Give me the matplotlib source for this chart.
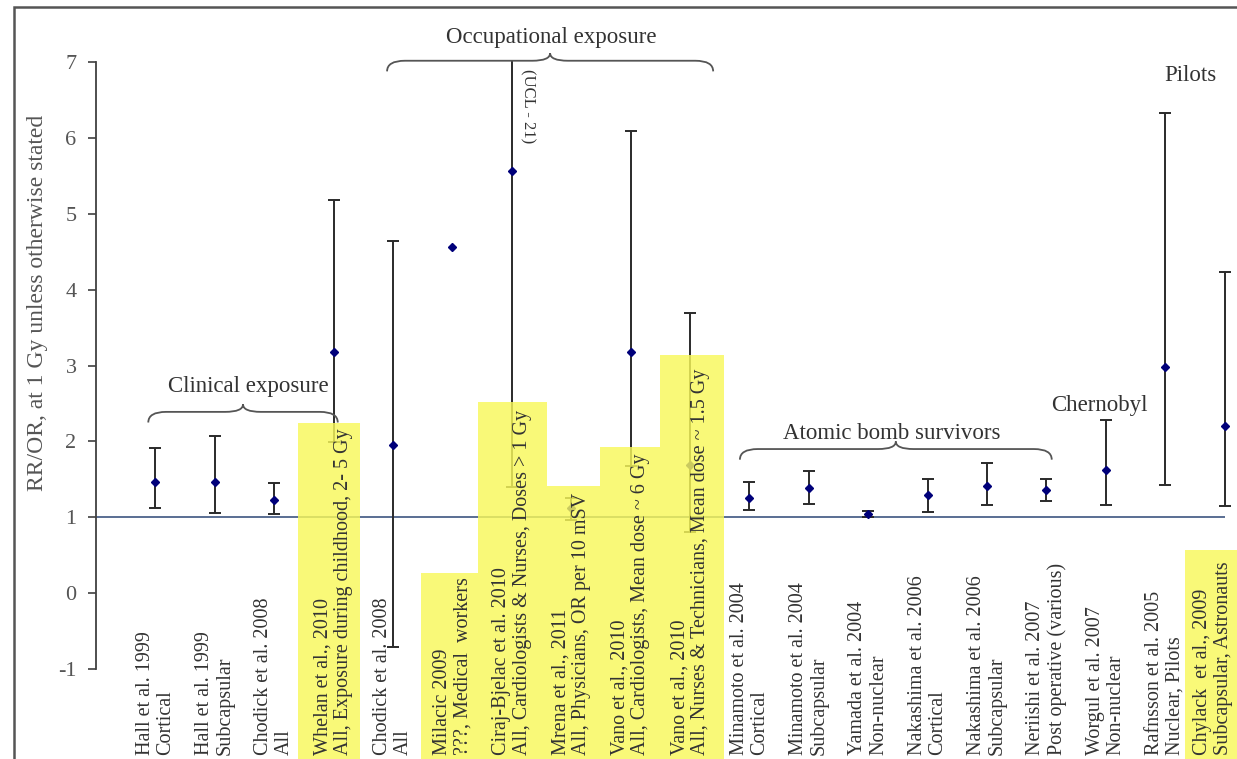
import numpy as np
import matplotlib.pyplot as plt
from matplotlib.path import Path
from matplotlib.patches import PathPatch, Rectangle

plt.rcParams['font.family'] = ['Liberation Serif', 'DejaVu Serif']
plt.rcParams['axes.unicode_minus'] = False

# study names (first label line) and subgroup (second label line)
studies = ['Hall et al. 1999', 'Hall et al. 1999', 'Chodick et al. 2008', 'Whelan et al., 2010',
           'Chodick et al. 2008', 'Milacic 2009', 'Ciraj-Bjelac et al. 2010', 'Mrena et al., 2011',
           'Vano et al., 2010', 'Vano et al., 2010', 'Minamoto et al. 2004', 'Minamoto et al. 2004',
           'Yamada et al. 2004', 'Nakashima et al. 2006', 'Nakashima et al. 2006', 'Neriishi et al. 2007',
           'Worgul et al. 2007', 'Rafnsson et al. 2005', 'Chylack  et al., 2009']
subgroups = ['Cortical', 'Subcapsular', 'All', 'All, Exposure during childhood, 2- 5 Gy',
             'All', '???, Medical  workers', 'All, Cardiologists & Nurses, Doses > 1 Gy',
             'All, Physicians, OR per 10 mSV', 'All, Cardiologists, Mean dose ~ 6 Gy',
             'All, Nurses & Technicians, Mean dose ~ 1.5 Gy', 'Cortical', 'Subcapsular',
             'Non-nuclear', 'Cortical', 'Subcapsular', 'Post operative (various)',
             'Non-nuclear', 'Nuclear, Pilots', 'Subcapsular, Astronauts']

# estimate and confidence limits
rr    = [1.47, 1.47, 1.23, 3.18, 1.95, 4.57, 5.57, 1.12, 3.18, 1.69, 1.26, 1.38, 1.04,
         1.29, 1.41, 1.36, 1.62, 2.98, 2.21]
lower = [1.12, 1.06, 1.04, 1.99, -0.71, np.nan, 1.40, 0.97, 1.68, 0.80, 1.10, 1.18, 1.01,
         1.07, 1.16, 1.22, 1.16, 1.42, 1.15]
upper = [1.91, 2.07, 1.45, 5.18, 4.64, np.nan, 7.02, 1.26, 6.09, 3.69, 1.47, 1.61, 1.08,
         1.50, 1.72, 1.51, 2.28, 6.33, 4.24]
upper_cap = [True] * 19
upper_cap[6] = False  # Ciraj-Bjelac upper limit runs off the scale (UCL ~ 21)

# yellow highlights: (left, right, top)
highlights = [(3.40, 4.44, 2.24), (5.47, 6.43, 0.27), (6.43, 7.59, 2.52), (7.59, 8.48, 1.41),
              (8.48, 9.49, 1.93), (9.49, 10.57, 3.14), (18.33, 19.4, 0.57)]

# group braces: (text, x start, x end, brace y, text x, text y)
groups = [('Clinical exposure', 0.88, 4.07, 2.39, 2.56, 2.73),
          ('Occupational exposure', 4.90, 10.39, 7.02, 7.66, 7.32),
          ('Atomic bomb survivors', 10.84, 16.09, 1.90, 13.40, 2.11)]

x = np.arange(1, len(rr) + 1)

fig = plt.figure(figsize=(12.37, 7.59), dpi=100)
ax = fig.add_axes([96 / 1237, 0, 1141 / 1237, 1])
ax.set_xlim(0, 1141 / 59.4)
ax.set_ylim(1 - (759 - 517.3) / 75.84, 1 + 517.3 / 75.84)

# axis styling
for s in ['top', 'right', 'bottom']:
    ax.spines[s].set_visible(False)
ax.spines['left'].set_bounds(-1, 7)
ax.spines['left'].set_color('#404040')
ax.spines['left'].set_linewidth(1.3)
ax.set_xticks([])
ax.set_yticks(range(-1, 8))
ax.tick_params(axis='y', direction='out', length=6, width=1.2, color='#404040',
               labelsize=16, labelcolor='#555555', pad=8)
ax.patch.set_alpha(0)

# figure frame
fig.add_artist(Rectangle((14 / 1237, -0.1), 1.2, 1.1 - 7 / 759, transform=fig.transFigure,
                         fill=False, edgecolor='#555555', linewidth=1.8))

# y label
fig.text(38 / 1237, 1 - 303 / 759, 'RR/OR, at 1 Gy unless otherwise stated', rotation=90,
         ha='center', va='center', fontsize=17, color='#555555')

# reference line
ax.hlines(1, 0, len(rr), color='#3d5580', linewidth=1.2, zorder=2)

# error bars
for xi, lo, hi, cap in zip(x, lower, upper, upper_cap):
    if np.isnan(lo):
        continue
    ax.vlines(xi, lo, hi, color='#2a2a2a', linewidth=1.4, zorder=3)
    ax.plot([xi], [lo], marker='_', markersize=9, mew=1.4, color='#2a2a2a', zorder=3)
    if cap:
        ax.plot([xi], [hi], marker='_', markersize=9, mew=1.4, color='#2a2a2a', zorder=3)
ax.plot(x, rr, linestyle='none', marker='D', markersize=4.5, color='#00007a', zorder=4)

# yellow highlights over the marks
for left, right, top in highlights:
    ax.add_patch(Rectangle((left, -2.4), right - left, top + 2.4, facecolor='#f8f85a',
                           edgecolor='none', alpha=0.82, zorder=5, clip_on=False))

# category labels (the last one is squeezed against the right edge)
for i, (xi, st, sg) in enumerate(zip(x, studies, subgroups)):
    lx = xi - 0.2 if i == len(x) - 1 else xi
    ax.text(lx, -2.14, st + '\n' + sg, rotation=90, ha='center', va='bottom',
            multialignment='left', fontsize=14.5, linespacing=1.12, color='#333333', zorder=6)


def brace(x0, x1, y, drop=0.14, cusp=0.1, r=0.3):
    xm = (x0 + x1) / 2
    verts = [(x0, y - drop), (x0, y), (x0 + r, y), (xm - r, y), (xm, y), (xm, y + cusp),
             (xm, y), (xm + r, y), (x1 - r, y), (x1, y), (x1, y - drop)]
    codes = [Path.MOVETO, Path.CURVE3, Path.CURVE3, Path.LINETO, Path.CURVE3, Path.CURVE3,
             Path.CURVE3, Path.CURVE3, Path.LINETO, Path.CURVE3, Path.CURVE3]
    ax.add_patch(PathPatch(Path(verts, codes), fill=False, edgecolor='#555555',
                           linewidth=1.3, zorder=6, clip_on=False))


for label, x0, x1, yb, tx, ty in groups:
    brace(x0, x1, yb)
    ax.text(tx, ty, label, ha='center', va='center', fontsize=16.5, color='#333333', zorder=7)

ax.text(16.9, 2.48, 'Chernobyl', ha='center', va='center', fontsize=16.5, color='#333333')
ax.text(18.42, 6.82, 'Pilots', ha='center', va='center', fontsize=16.5, color='#333333')
ax.text(7.26, 6.42, '(UCL - 21)', rotation=270, ha='center', va='center', fontsize=12,
        color='#333333')

fig.savefig('out.png', dpi=100)
